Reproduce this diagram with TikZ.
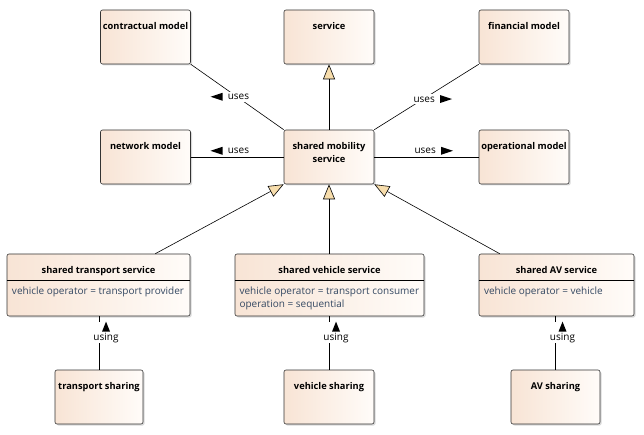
\documentclass[tikz,border=0pt]{standalone}
\usepackage{fontspec}
\setmainfont{Open Sans}
\usetikzlibrary{arrows.meta,shadows}

\definecolor{boxleft}{RGB}{248,228,213}
\definecolor{boxright}{RGB}{255,252,249}
\definecolor{attrcol}{RGB}{52,72,98}
\definecolor{genfill}{RGB}{247,221,172}

\newcommand{\boxtitle}[3]{\parbox[c][#2][t]{#1}{\centering\vspace*{12pt}\textbf{#3}\par}}
\newcommand{\trileft}{\tikz[baseline=-3pt]\fill (0pt,0pt) -- (12pt,4pt) -- (12pt,-4pt) -- cycle;}
\newcommand{\triright}{\tikz[baseline=-3pt]\fill (0pt,4pt) -- (12pt,0pt) -- (0pt,-4pt) -- cycle;}
\newcommand{\triup}{\tikz\fill (0pt,0pt) -- (4pt,10pt) -- (8pt,0pt) -- cycle;}

\tikzset{
  umlbox/.style={draw=black!80, rounded corners=2pt, inner sep=0pt,
    left color=boxleft, right color=boxright,
    drop shadow={shadow xshift=1.5pt, shadow yshift=-1.5pt, opacity=.3}},
  attr/.style={inner sep=0pt, anchor=north west, align=left, text=attrcol,
    font=\fontsize{10}{12.6}\selectfont},
  lbl/.style={fill=white, inner sep=1pt, font=\fontsize{10}{12}\selectfont},
  gen/.style={-{Triangle[length=15pt, width=12pt, fill=genfill]}},
}

\begin{document}
\begin{tikzpicture}[x=1pt, y=-1pt, font=\fontsize{9.3}{13}\selectfont, line width=0.6pt]

\useasboundingbox (0,0) rectangle (644,435);

% top row
\node[umlbox] (contract)  at (145.5,37) {\boxtitle{90pt}{54pt}{contractual model}};
\node[umlbox] (service)   at (329,37)   {\boxtitle{90pt}{54pt}{service}};
\node[umlbox] (financial) at (524,37)   {\boxtitle{90pt}{54pt}{financial model}};

% middle row
\node[umlbox] (network)     at (145.5,157) {\boxtitle{90pt}{54pt}{network model}};
\node[umlbox] (mobility)    at (329,157)   {\boxtitle{90pt}{54pt}{shared mobility\\service}};
\node[umlbox] (operational) at (524,157)   {\boxtitle{90pt}{54pt}{operational model}};

% specialised services
\node[umlbox] (tsvc)  at (98.5,285)  {\boxtitle{183pt}{62pt}{shared transport service}};
\node[umlbox] (vsvc)  at (329.5,285) {\boxtitle{189pt}{62pt}{shared vehicle service}};
\node[umlbox] (avsvc) at (556.5,285) {\boxtitle{155pt}{62pt}{shared AV service}};

\draw ([yshift=-27pt]tsvc.north west) -- ([yshift=-27pt]tsvc.north east);
\draw ([yshift=-27pt]vsvc.north west) -- ([yshift=-27pt]vsvc.north east);
\draw ([yshift=-27pt]avsvc.north west) -- ([yshift=-27pt]avsvc.north east);

\node[attr] (tsvcattr)  at ([xshift=5pt,yshift=-33pt]tsvc.north west)  {vehicle operator = transport provider};
\node[attr] (vsvcattr)  at ([xshift=4.5pt,yshift=-33pt]vsvc.north west) {vehicle operator = transport consumer\\operation = sequential};
\node[attr] (avsvcattr) at ([xshift=5pt,yshift=-33pt]avsvc.north west) {vehicle operator = vehicle};

% sharing
\node[umlbox] (tshare)  at (99,397)    {\boxtitle{88pt}{54pt}{transport sharing}};
\node[umlbox] (vshare)  at (329,397)   {\boxtitle{90pt}{54pt}{vehicle sharing}};
\node[umlbox] (avshare) at (555.5,397) {\boxtitle{89pt}{54pt}{AV sharing}};

% uses
\draw (contract.south east) -- (mobility.north west)
  node[lbl, pos=.42, yshift=-5pt] (usec) {\trileft\ \ uses};
\draw (financial.south west) -- (mobility.north east)
  node[lbl, pos=.44, yshift=-6pt] (usef) {uses\ \ \triright};
\draw (network.east) -- (mobility.west)
  node[lbl, pos=.42, above=1pt] (usen) {\trileft\ \ uses};
\draw (mobility.east) -- (operational.west)
  node[lbl, pos=.57, above=1pt] (useo) {uses\ \ \triright};

% generalisation
\draw[gen] (mobility.north) -- (service.south);
\draw[gen] ([xshift=-35pt]tsvc.north east) -- (mobility.south west);
\draw[gen] (mobility.south |- vsvc.north) -- (mobility.south);
\draw[gen] ([xshift=21pt]avsvc.north west) -- (mobility.south east);

% using
\draw (tshare.north) -- (tshare.north |- tsvc.south)
  node[lbl, pos=.7, xshift=7pt, inner sep=0pt, align=center] (uset) {\triup\\[-3pt]using};
\draw (vshare.north) -- (vshare.north |- vsvc.south)
  node[lbl, pos=.7, xshift=7pt, inner sep=0pt, align=center] (usev) {\triup\\[-3pt]using};
\draw (avshare.north) -- (avshare.north |- avsvc.south)
  node[lbl, pos=.7, xshift=7pt, inner sep=0pt, align=center] (usea) {\triup\\[-3pt]using};

\end{tikzpicture}
\end{document}
